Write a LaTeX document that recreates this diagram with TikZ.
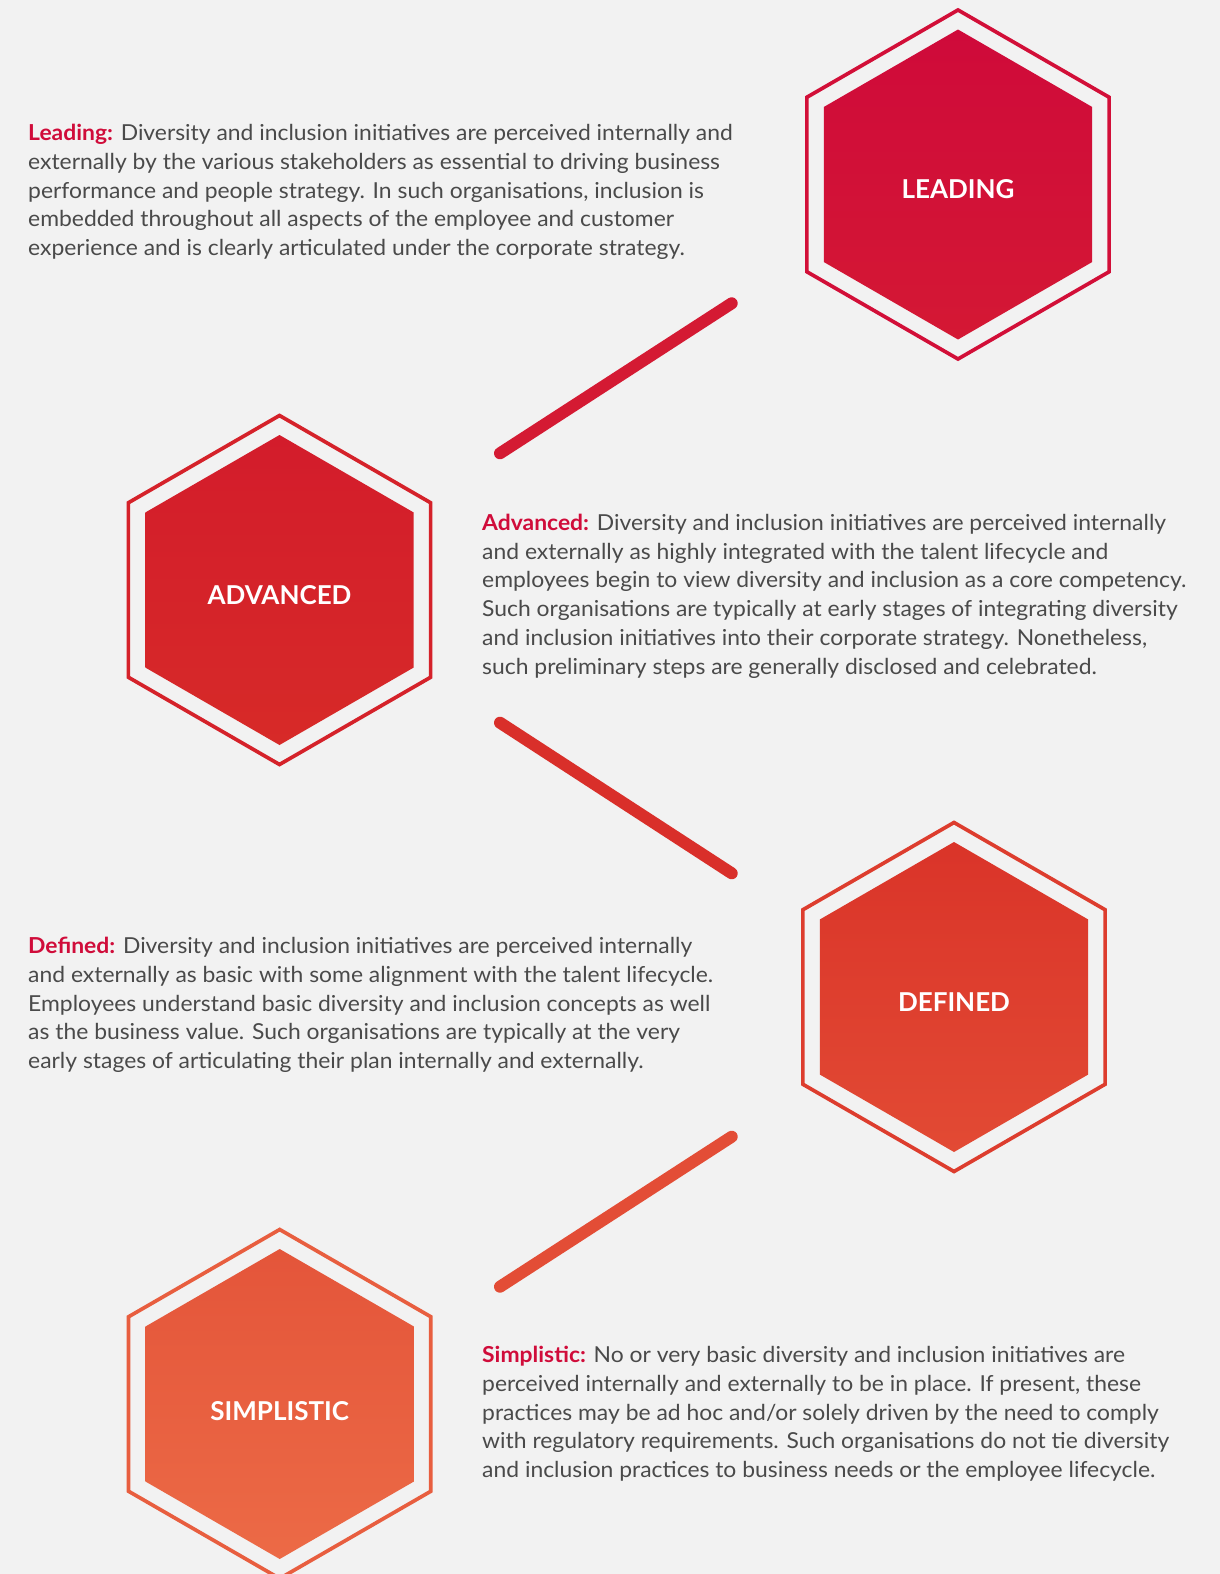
\documentclass[tikz,border=0pt]{standalone}
\usepackage{fontspec}
\setmainfont{Lato}
\newfontfamily\descfont[FakeStretch=1.04]{Lato}
\usetikzlibrary{calc}

\definecolor{bgcol}{HTML}{F2F2F2}
\definecolor{bodytext}{HTML}{4A4A4A}
\definecolor{headcol}{HTML}{D00C3A}
% level colours: top of fill, bottom of fill, frame
\definecolor{leadT}{HTML}{CF0A3A}\definecolor{leadB}{HTML}{D41834}\definecolor{leadF}{HTML}{D20F38}
\definecolor{advT}{HTML}{D31C2B}\definecolor{advB}{HTML}{D72A28}\definecolor{advF}{HTML}{D5222A}
\definecolor{defT}{HTML}{DA3429}\definecolor{defB}{HTML}{E24A34}\definecolor{defF}{HTML}{DD3D2E}
\definecolor{simT}{HTML}{E4553A}\definecolor{simB}{HTML}{EC6A46}\definecolor{simF}{HTML}{E85E3F}
\definecolor{linkA}{HTML}{D41A33}
\definecolor{linkB}{HTML}{D92F2A}
\definecolor{linkC}{HTML}{E34D36}

\newcommand\hexat[2]{(#1) +(90:#2) -- +(150:#2) -- +(210:#2) -- +(270:#2) -- +(330:#2) -- +(30:#2) -- cycle}

\tikzset{
  hexframe/.style={draw=#1, line width=3.7pt, line join=miter},
  hexlabel/.style={text=white, font=\fontsize{26}{26}\selectfont\bfseries, anchor=base, inner sep=0pt},
  % anchored at the baseline of the last line
  desc/.style={text=bodytext, font=\descfont\fontsize{22}{28.7}\selectfont, align=left, anchor=base west, inner sep=0pt},
  link/.style={draw=#1, line width=12pt, line cap=round},
}
\newcommand\hd[1]{\textcolor{headcol}{\bfseries #1}}

\begin{document}
\begin{tikzpicture}[x=1pt,y=-1pt]
\fill[bgcol] (0,0) rectangle (1220,1574);
\useasboundingbox (0,0) rectangle (1220,1574);

% hexagon centres
\coordinate (cLead) at (958,184.5);
\coordinate (cAdv)  at (279.5,590);
\coordinate (cDef)  at (954,997);
\coordinate (cSim)  at (279.7,1404);

% framed, shaded hexagons
\foreach \c/\t/\b/\f in {cLead/leadT/leadB/leadF, cAdv/advT/advB/advF, cDef/defT/defB/defF, cSim/simT/simB/simF}{
  \draw[hexframe=\f] \hexat{\c}{174.5};
  \shade[top color=\t, bottom color=\b] \hexat{\c}{155};
}

% level names
\node[hexlabel] (nLead) at ($(cLead)+(0,13.5)$) {LEADING};
\node[hexlabel] (nAdv)  at ($(cAdv)+(0,14)$)   {ADVANCED};
\node[hexlabel] (nDef)  at ($(cDef)+(0,14.5)$) {DEFINED};
\node[hexlabel] (nSim)  at ($(cSim)+(0,16.5)$) {SIMPLISTIC};

% connecting strokes
\coordinate (k1a) at (731.7,303.3); \coordinate (k1b) at (500,453.3);
\coordinate (k2a) at (500,722.7);   \coordinate (k2b) at (731.7,873.3);
\coordinate (k3a) at (731.7,1136.7);\coordinate (k3b) at (500,1286.7);
\draw[link=linkA] (k1a) -- (k1b);
\draw[link=linkB] (k2a) -- (k2b);
\draw[link=linkC] (k3a) -- (k3b);

% descriptions
\node[desc] (tLead) at (28,255.5) {\hd{Leading:} Diversity and inclusion initiatives are perceived internally and\\
externally by the various stakeholders as essential to driving business\\
performance and people strategy. In such organisations, inclusion is\\
embedded throughout all aspects of the employee and customer\\
experience and is clearly articulated under the corporate strategy.};

\node[desc] (tAdv) at (482,674) {\hd{Advanced:} Diversity and inclusion initiatives are perceived internally\\
and externally as highly integrated with the talent lifecycle and\\
employees begin to view diversity and inclusion as a core competency.\\
Such organisations are typically at early stages of integrating diversity\\
and inclusion initiatives into their corporate strategy. Nonetheless,\\
such preliminary steps are generally disclosed and celebrated.};

\node[desc] (tDef) at (28,1068.5) {\hd{Defined:} Diversity and inclusion initiatives are perceived internally\\
and externally as basic with some alignment with the talent lifecycle.\\
Employees understand basic diversity and inclusion concepts as well\\
as the business value. Such organisations are typically at the very\\
early stages of articulating their plan internally and externally.};

\node[desc] (tSim) at (482,1477.5) {\hd{Simplistic:} No or very basic diversity and inclusion initiatives are\\
perceived internally and externally to be in place. If present, these\\
practices may be ad hoc and/or solely driven by the need to comply\\
with regulatory requirements. Such organisations do not tie diversity\\
and inclusion practices to business needs or the employee lifecycle.};
\end{tikzpicture}
\end{document}
